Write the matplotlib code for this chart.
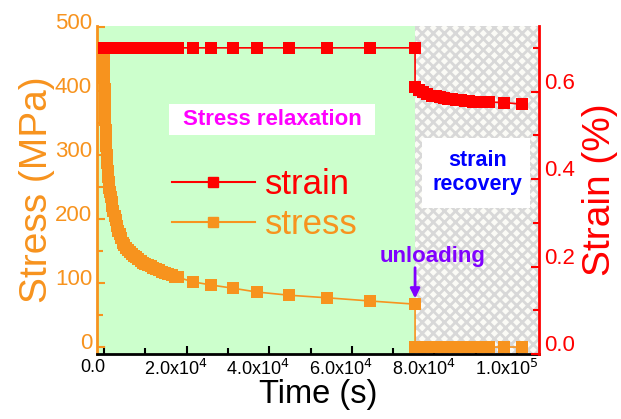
import matplotlib
matplotlib.use('Agg')
import matplotlib.pyplot as plt
from matplotlib.ticker import MultipleLocator, FormatStrFormatter
from matplotlib.patches import Rectangle
from matplotlib.transforms import ScaledTranslation

plt.rcParams['font.family'] = ['Liberation Sans', 'DejaVu Sans']
plt.rcParams['hatch.linewidth'] = 2.0
plt.rcParams['hatch.color'] = '#d8d8d8'

# Relaxation stage (strain held constant)
t_relax = [0, 30, 60, 100, 150, 200, 260, 330, 400, 480, 570, 670, 780, 900,
           1030, 1170, 1320, 1480, 1660, 1860, 2080, 2320, 2580, 2860, 3160,
           3480, 3820, 4180, 4560, 4960, 5380, 5820, 6280, 6760, 7260, 7780,
           8320, 8880, 9460, 10060, 10680, 11320, 11980, 12660, 13360, 14080,
           14820, 15580, 16360, 17160, 17900,
           21500, 25900, 31200, 37000, 44800, 54000, 64400, 75300]
stress_relax = [453, 443, 432, 420, 403, 386, 372, 355, 340, 327, 314, 300, 287, 275,
                266, 258, 249, 242, 235, 227, 220, 213, 205, 198, 190,
                182, 176, 170, 163, 159, 155, 152, 149, 145, 143, 140,
                137, 135, 132, 130, 128, 126, 124, 122, 120, 118,
                116, 114, 112, 110, 109,
                102, 97, 92, 86, 81, 77, 72, 67]
strain_relax = [0.70] * len(t_relax)

# Recovery stage (after unloading)
t_recov = [75300, 76300, 77300, 78300, 79300, 80300, 81300, 82300, 83300,
           84300, 85300, 86300, 87300, 88300, 89300, 90300, 91500,
           93200, 96900, 101200]
stress_recov = [0] * len(t_recov)
strain_recov = [0.610, 0.603, 0.598, 0.594, 0.591, 0.589, 0.587, 0.585, 0.584,
                0.582, 0.581, 0.580, 0.579, 0.578, 0.577, 0.577, 0.576,
                0.576, 0.575, 0.571]

t_unload = 75300
xticks = [0, 20000, 40000, 60000, 80000, 100000]
xticklabels = ['0.0', r'2.0x10$^4$', r'4.0x10$^4$', r'6.0x10$^4$', r'8.0x10$^4$', r'1.0x10$^5$']

orange = '#f7931e'
red = '#ff0000'

fig = plt.figure(figsize=(6.21, 4.19), dpi=100)
ax = fig.add_axes([0.156, 0.155, 0.712, 0.783])
ax2 = ax.twinx()

ax.set_xlim(-1700, 105300)
ax.set_ylim(-11, 502)
ax2.set_ylim(0, 0.75)

# background regions
ax.axvspan(-1700, t_unload, color='#ccffcc', zorder=0, lw=0)
ax.add_patch(Rectangle((t_unload, -11), 105300 - t_unload, 513, facecolor='#fbfbf6',
                       edgecolor='#d8d8d8', hatch='xxx', lw=0, zorder=0))

# white label boxes
ax.add_patch(Rectangle((0.163, 0.668), 0.466, 0.094, transform=ax.transAxes,
                       facecolor='white', edgecolor='none', zorder=1))
ax.add_patch(Rectangle((0.735, 0.445), 0.245, 0.214, transform=ax.transAxes,
                       facecolor='white', edgecolor='none', zorder=1))

# stress
ax.plot(t_relax + t_recov, stress_relax + stress_recov, color=orange, lw=1.2,
        marker='s', ms=8, markeredgewidth=0, zorder=3)
# strain
ax2.plot(t_relax + t_recov, strain_relax + strain_recov, color=red, lw=1.2,
         marker='s', ms=8, markeredgewidth=0, zorder=3)

# legend
h1, = ax.plot([], [], color=red, lw=1.5, marker='s', ms=7)
h2, = ax.plot([], [], color=orange, lw=1.5, marker='s', ms=7)
leg = ax.legend([h1, h2], ['strain', 'stress'], loc='upper left',
                bbox_to_anchor=(0.13, 0.62), frameon=False, fontsize=25,
                handlelength=2.4, handletextpad=0.3, labelspacing=0.2,
                borderpad=0)
for txt, c in zip(leg.get_texts(), [red, orange]):
    txt.set_color(c)

# annotations
ax.text(0.396, 0.714, 'Stress relaxation', transform=ax.transAxes, color='#ff00ff',
        fontsize=16, fontweight='bold', ha='center', va='center', zorder=2)
ax.text(0.86, 0.553, 'strain\nrecovery', transform=ax.transAxes, color='#0000ff',
        fontsize=15.5, fontweight='bold', ha='center', va='center', linespacing=1.15,
        zorder=2)
ax.text(t_unload + 4200, 141, 'unloading', color='#8000ff', fontsize=16,
        fontweight='bold', ha='center', va='center')
ax.annotate('', xy=(t_unload, 76), xytext=(t_unload, 124),
            arrowprops=dict(arrowstyle='-|>', color='#8000ff', lw=2, mutation_scale=14,
                            shrinkA=0, shrinkB=0))

# axes styling
ax.set_xticks(xticks)
ax.set_xticklabels(xticklabels, fontsize=13)
ax.xaxis.set_minor_locator(MultipleLocator(10000))
ax.set_yticks([0, 100, 200, 300, 400, 500])
ax.yaxis.set_minor_locator(MultipleLocator(50))
ax2.set_yticks([0.0, 0.2, 0.4, 0.6])
ax2.yaxis.set_minor_locator(MultipleLocator(0.1))
ax2.yaxis.set_major_formatter(FormatStrFormatter('%.1f'))

ax.tick_params(axis='y', colors=orange, labelsize=16, direction='in', length=6, width=1.5)
ax.tick_params(axis='y', which='minor', colors=orange, direction='in', length=4, width=1.5)
ax.tick_params(axis='x', colors='black', labelsize=13, direction='in', length=6, width=1.5)
ax.tick_params(axis='x', which='minor', direction='in', length=4, width=1.5)
ax.tick_params(axis='x', top=False, which='both')
ax2.tick_params(axis='y', colors=red, labelsize=16, direction='in', length=6, width=1.5)
ax2.tick_params(axis='y', which='minor', colors=red, direction='in', length=4, width=1.5)

ax.spines['top'].set_visible(False)
ax2.spines['top'].set_visible(False)
ax.spines['left'].set_color(orange)
ax.spines['left'].set_linewidth(2)
ax.spines['bottom'].set_linewidth(2)
ax.spines['right'].set_visible(False)
ax2.spines['right'].set_color(red)
ax2.spines['right'].set_linewidth(2)
ax2.spines['left'].set_visible(False)
ax2.spines['bottom'].set_visible(False)

ax.set_xlabel('Time (s)', fontsize=23.5, labelpad=0)
ax.set_ylabel('Stress (MPa)', fontsize=28, color=orange, labelpad=0)
ax2.set_ylabel('Strain (%)', fontsize=28, color=red, labelpad=5)

# nudge tick labels like in the original export
for lbl in ax.get_xticklabels():
    lbl.set_transform(lbl.get_transform() + ScaledTranslation(-0.11, 0, fig.dpi_scale_trans))
for lbl in ax.get_yticklabels():
    lbl.set_transform(lbl.get_transform() + ScaledTranslation(0, 0.06, fig.dpi_scale_trans))
for lbl in ax2.get_yticklabels():
    lbl.set_transform(lbl.get_transform() + ScaledTranslation(0, 0.11, fig.dpi_scale_trans))

fig.savefig('out.png', dpi=100)
